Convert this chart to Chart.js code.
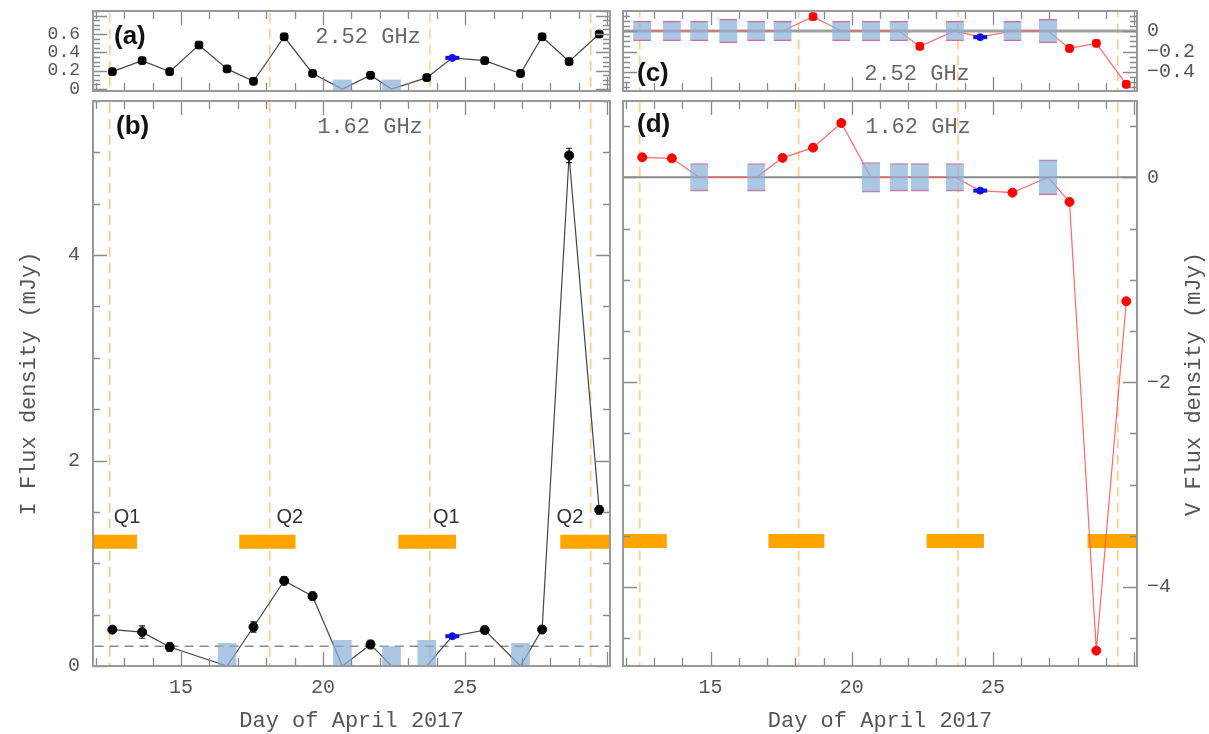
<!DOCTYPE html>
<html>
<head>
<meta charset="utf-8">
<title>Radio light curves, April 2017</title>
<script src="https://cdn.jsdelivr.net/npm/chart.js@4.4.0/dist/chart.umd.min.js"></script>
<style>
  html, body { margin: 0; padding: 0; background: #fff; }
  #wrap { position: relative; width: 1209px; height: 734px; }
  #wrap canvas { position: absolute; left: 0; top: 0; }
</style>
</head>
<body>
<div id="wrap">
  <canvas id="panelA" width="1209" height="734"></canvas>
  <canvas id="panelB" width="1209" height="734"></canvas>
  <canvas id="panelC" width="1209" height="734"></canvas>
  <canvas id="panelD" width="1209" height="734"></canvas>
</div>
<script>
// observation epochs (day of April 2017)
const days = [12.58, 13.63, 14.60, 15.63, 16.62, 17.55, 18.63, 19.63, 20.68, 21.67, 22.41, 23.65, 24.55, 25.69, 26.95, 27.71, 28.66, 29.72];
const otherIdx = 12; // the blue epoch

// Stokes I, 2.52 GHz (a)
const i252 = [0.19, 0.31, 0.19, 0.48, 0.22, 0.085, 0.57, 0.17, 0.0, 0.15, 0.0, 0.125, 0.34, 0.31, 0.17, 0.57, 0.30, 0.60];
const i252Lim = [null, null, null, null, null, null, null, null, 0.10, null, 0.10, null, null, null, null, null, null, null];

// Stokes I, 1.62 GHz (b) - no data on 15.63
const i162 = [0.354, 0.33, 0.185, null, 0.0, 0.38, 0.83, 0.68, 0.0, 0.21, 0.0, 0.0, 0.29, 0.35, 0.0, 0.355, 4.97, 1.52];
const i162Err = [0.03, 0.06, 0.04, null, null, 0.05, 0.04, 0.04, null, 0.04, null, null, null, 0.03, null, 0.03, 0.07, 0.04];
const i162Lim = [null, null, null, null, 0.22, null, null, null, 0.25, null, 0.19, 0.25, null, null, 0.22, null, null, null];
const iThreshold = 0.192;

// Stokes V, 2.52 GHz (c)
const v252 = [0, 0, 0, 0, 0, 0, 0.14, 0, 0, 0, -0.15, 0, -0.06, 0, 0, -0.17, -0.12, -0.52];
const v252Lim = [0.095, 0.095, 0.095, 0.115, 0.095, 0.095, null, 0.095, 0.095, 0.095, null, 0.095, null, 0.095, 0.115, null, null, null];

// Stokes V, 1.62 GHz (d)
const v162 = [0.195, 0.185, 0, null, 0, 0.19, 0.29, 0.53, 0, 0, 0, 0, -0.13, -0.15, 0, -0.24, -4.62, -1.21];
const v162Lim = [null, null, 0.135, null, 0.135, null, null, null, 0.145, 0.135, 0.135, 0.135, null, null, 0.17, null, null, null];

// rotation phase markers
const phaseDays = [12.49, 18.12, 23.76, 29.42];
const qStart = [11.5, 17.05, 22.65, 28.35];
const qEnd = [13.45, 19.03, 24.68, 30.5];
const qNames = ['Q1', 'Q2', 'Q1', 'Q2'];
const qNameDays = [12.63, 18.36, 23.87, 28.22];
const qLevelB = 1.21, qNameLevelB = 1.45, qLevelD = -3.55;

// axes
const dayRange = [11.9, 30.1];
const dayTicks = [15, 20, 25];
const aRange = [-0.021, 0.851], aTicks = [0, 0.2, 0.4, 0.6];
const bRange = [0, 5.5], bTicks = [0, 2, 4];
const cRange = [-0.585, 0.195], cTicks = [0, -0.2, -0.4];
const dRange = [-4.77, 0.745], dTicks = [0, -2, -4];

const mono = "'Liberation Mono', 'DejaVu Sans Mono', monospace";
const sans = "'Liberation Sans', Arial, sans-serif";
const boxBlue = 'rgba(140,178,218,0.72)';

// helpers to build chart data from the arrays
const series = (vals, keep, errs) => days
  .map((d, i) => ({ x: d, y: vals[i], e: errs ? errs[i] : null, i }))
  .filter(p => p.y !== null && keep(p.i));
const boxes = (vals, lims) => days
  .map((d, i) => ({ x: d, y: [vals[i] - lims[i], vals[i] + lims[i]], i }))
  .filter(p => lims[p.i] !== null);
const fmt = v => String(v).replace('-', '\u2212');
const labelFrom = list => v => {
  const hit = list.find(t => Math.abs(t - v) < 1e-6);
  return hit === undefined ? '' : fmt(hit);
};

function phaseSets(range, qLevel) {
  const sets = phaseDays.map(d => ({
    type: 'line', data: [{ x: d, y: range[0] - 1 }, { x: d, y: range[1] + 1 }],
    borderColor: '#ffcc85', borderWidth: 1.6, borderDash: [10, 6], pointRadius: 0, order: 6
  }));
  if (qLevel !== null) {
    qStart.forEach((s, k) => sets.push({
      type: 'line', data: [{ x: s, y: qLevel }, { x: qEnd[k], y: qLevel }],
      borderColor: '#ffa500', borderWidth: 14, borderCapStyle: 'butt', pointRadius: 0, order: 5
    }));
  }
  return sets;
}

function hLine(level, color, width, dash) {
  return {
    type: 'line', data: [{ x: dayRange[0] - 1, y: level }, { x: dayRange[1] + 1, y: level }],
    borderColor: color, borderWidth: width, borderDash: dash, pointRadius: 0, order: 4
  };
}

function curveSets(vals, lims, color, markColor, markStyle, errs, boxEdge) {
  return [
    { type: 'line', data: series(vals, () => true), borderColor: color, borderWidth: 1.2,
      pointRadius: 0, tension: 0, order: 3 },
    { type: 'bar', data: boxes(vals, lims), backgroundColor: boxBlue, barThickness: 18,
      borderSkipped: false, borderColor: 'rgba(215,80,120,0.85)',
      borderWidth: boxEdge ? { top: 1, bottom: 1, left: 0, right: 0 } : 0, order: 2 },
    { type: 'scatter', data: series(vals, i => lims[i] === null && i !== otherIdx, errs),
      pointStyle: markStyle, pointRadius: 4.5, pointBackgroundColor: markColor,
      pointBorderColor: markColor, pointBorderWidth: 1, errors: !!errs, order: 1 },
    { type: 'scatter', data: series(vals, i => i === otherIdx), pointStyle: 'line', pointRadius: 7,
      pointBorderColor: '#1010e0', pointBorderWidth: 4, order: 0 },
    { type: 'scatter', data: series(vals, i => i === otherIdx), pointRadius: 3.5,
      pointBackgroundColor: '#1010e0', pointBorderColor: '#1010e0', order: 0 }
  ];
}

// frame with inward ticks on all four sides, plus error bars
function framePlugin(xMajor, yMajor) {
  const isMajor = (v, m) => Math.abs(v / m - Math.round(v / m)) < 1e-6;
  return {
    id: 'frame',
    afterDatasetsDraw(chart) {
      const { ctx, chartArea: a, scales: { x, y } } = chart;
      ctx.save();
      // error bars
      ctx.strokeStyle = '#111';
      ctx.lineWidth = 1.2;
      chart.data.datasets.forEach(ds => {
        if (!ds.errors) return;
        ds.data.forEach(p => {
          if (!p.e) return;
          const px = x.getPixelForValue(p.x);
          const y1 = y.getPixelForValue(p.y + p.e), y2 = y.getPixelForValue(p.y - p.e);
          ctx.beginPath();
          ctx.moveTo(px, y1); ctx.lineTo(px, y2);
          ctx.moveTo(px - 3, y1); ctx.lineTo(px + 3, y1);
          ctx.moveTo(px - 3, y2); ctx.lineTo(px + 3, y2);
          ctx.stroke();
        });
      });
      ctx.strokeStyle = '#8a8a8a';
      ctx.lineWidth = 1.3;
      ctx.beginPath();
      x.ticks.forEach(t => {
        const px = Math.round(x.getPixelForValue(t.value)) + 0.5;
        const len = isMajor(t.value, xMajor) ? 14 : 8;
        ctx.moveTo(px, a.bottom); ctx.lineTo(px, a.bottom - len);
        ctx.moveTo(px, a.top); ctx.lineTo(px, a.top + len);
      });
      y.ticks.forEach(t => {
        const py = Math.round(y.getPixelForValue(t.value)) + 0.5;
        const len = isMajor(t.value, yMajor) ? 14 : 7;
        ctx.moveTo(a.left, py); ctx.lineTo(a.left + len, py);
        ctx.moveTo(a.right, py); ctx.lineTo(a.right - len, py);
      });
      ctx.stroke();
      ctx.lineWidth = 2;
      ctx.strokeStyle = '#999';
      ctx.strokeRect(a.left, a.top, a.right - a.left, a.bottom - a.top);
      ctx.restore();
    }
  };
}

// text annotations: default = offset from chart area corner, 'data' = scale values, 'abs' = page pixels
function notesPlugin(items) {
  return {
    id: 'notes',
    afterDraw(chart) {
      const { ctx, chartArea: a, scales } = chart;
      items.forEach(n => {
        let x = a.left + n.x, y = a.top + n.y;
        if (n.at === 'data') { x = scales.x.getPixelForValue(n.x); y = scales.y.getPixelForValue(n.y); }
        if (n.at === 'abs') { x = n.x; y = n.y; }
        ctx.save();
        ctx.translate(x, y);
        if (n.rotate) ctx.rotate(n.rotate);
        ctx.font = n.font;
        ctx.fillStyle = n.color;
        ctx.textAlign = n.align || 'left';
        ctx.textBaseline = 'middle';
        ctx.fillText(n.text, 0, 0);
        ctx.restore();
      });
    }
  };
}

function makePanel(id, p) {
  return new Chart(document.getElementById(id), {
    type: 'scatter',
    data: { datasets: p.datasets },
    options: {
      responsive: false,
      animation: false,
      events: [],
      layout: { padding: p.padding },
      plugins: { legend: { display: false }, tooltip: { enabled: false } },
      scales: {
        x: {
          type: 'linear', position: 'bottom', min: dayRange[0], max: dayRange[1], offset: false,
          grid: { display: false, drawTicks: false, offset: false }, border: { display: false },
          ticks: {
            display: p.showX, stepSize: 1, includeBounds: false, autoSkip: false, maxRotation: 0,
            maxTicksLimit: 1000, padding: 10, color: '#555', font: { family: mono, size: 20 },
            callback: v => dayTicks.includes(v) ? String(v) : ''
          },
          title: {
            display: p.showX, text: 'Day of April 2017', color: '#555',
            font: { family: mono, size: 22 }, padding: { top: 0, bottom: 0 }
          },
          afterFit: s => { s.height = p.xHeight; s.paddingLeft = 0; s.paddingRight = 0; }
        },
        y: {
          type: 'linear', position: p.yPos, min: p.range[0], max: p.range[1], offset: false,
          beginAtZero: false,
          grid: { display: false, drawTicks: false }, border: { display: false },
          ticks: {
            stepSize: p.yStep, includeBounds: false, autoSkip: false, maxTicksLimit: 1000,
            padding: p.yPad, color: '#555', font: { family: mono, size: p.yFont },
            callback: labelFrom(p.yTicks)
          },
          title: {
            display: !!p.yTitle, text: p.yTitle || '', color: '#555',
            font: { family: mono, size: 22 }, padding: { top: 16, bottom: 0 }
          },
          afterFit: s => { s.width = p.yWidth; s.paddingTop = 0; s.paddingBottom = 0; }
        }
      }
    },
    plugins: [framePlugin(5, p.yMajor), notesPlugin(p.notes)]
  });
}

const tagFont = 'bold 26px ' + sans;
const freqFont = '22px ' + mono;

makePanel('panelA', {
  padding: { left: 0, right: 599, top: 9, bottom: 0 },
  showX: false, xHeight: 643, yPos: 'left', yWidth: 93, yPad: 13, yFont: 18,
  range: aRange, yStep: 0.05, yMajor: 0.2, yTicks: aTicks,
  datasets: [...phaseSets(aRange, null), ...curveSets(i252, i252Lim, '#444', '#000', 'rectRounded', null, false)],
  notes: [
    { text: '(a)', x: 21, y: 26, font: tagFont, color: '#111' },
    { text: '2.52 GHz', x: 275, y: 26, font: freqFont, color: '#666', align: 'center' }
  ]
});

makePanel('panelB', {
  padding: { left: 0, right: 599, top: 101, bottom: 0 },
  showX: true, xHeight: 68, yPos: 'left', yWidth: 93, yPad: 13, yFont: 20,
  range: bRange, yStep: 0.5, yMajor: 2, yTicks: bTicks, yTitle: 'I Flux density (mJy)',
  datasets: [...phaseSets(bRange, qLevelB), hLine(iThreshold, '#8a8a8a', 1.5, [9, 6]),
    ...curveSets(i162, i162Lim, '#444', '#000', 'circle', i162Err, false)],
  notes: [
    { text: '(b)', x: 23, y: 26, font: tagFont, color: '#111' },
    { text: '1.62 GHz', x: 277, y: 26, font: freqFont, color: '#666', align: 'center' },
    ...qNames.map((q, k) => ({ text: q, at: 'data', x: qNameDays[k], y: qNameLevelB,
      font: '20px ' + sans, color: '#333' }))
  ]
});

makePanel('panelC', {
  padding: { left: 623, right: 0, top: 9, bottom: 0 },
  showX: false, xHeight: 643, yPos: 'right', yWidth: 72, yPad: 10, yFont: 20,
  range: cRange, yStep: 0.05, yMajor: 0.2, yTicks: cTicks,
  datasets: [...phaseSets(cRange, null), hLine(0, '#a0a0a0', 3, []),
    ...curveSets(v252, v252Lim, 'rgba(255,90,90,0.9)', '#ff0000', 'rectRounded', null, true)],
  notes: [
    { text: '(c)', x: 14, y: 63, font: tagFont, color: '#111' },
    { text: '2.52 GHz', x: 294, y: 63, font: freqFont, color: '#666', align: 'center' }
  ]
});

makePanel('panelD', {
  padding: { left: 623, right: 0, top: 101, bottom: 0 },
  showX: true, xHeight: 68, yPos: 'right', yWidth: 72, yPad: 10, yFont: 20,
  range: dRange, yStep: 0.5, yMajor: 2, yTicks: dTicks,
  datasets: [...phaseSets(dRange, qLevelD), hLine(0, '#8a8a8a', 2, []),
    ...curveSets(v162, v162Lim, 'rgba(255,90,90,0.9)', '#ff0000', 'circle', null, true)],
  notes: [
    { text: '(d)', x: 14, y: 24, font: tagFont, color: '#111' },
    { text: '1.62 GHz', x: 295, y: 26, font: freqFont, color: '#666', align: 'center' },
    { text: 'V Flux density (mJy)', at: 'abs', x: 1194, y: 384, rotate: -Math.PI / 2,
      font: '22px ' + mono, color: '#555', align: 'center' }
  ]
});
</script>
</body>
</html>
